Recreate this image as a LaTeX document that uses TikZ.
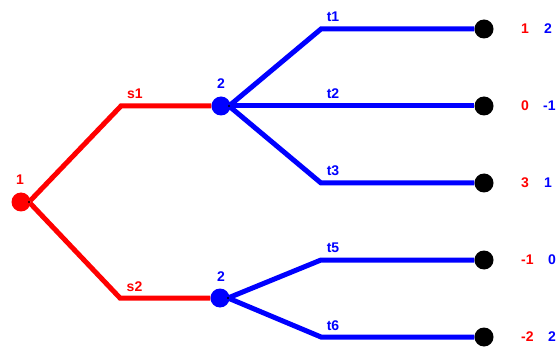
\documentclass[tikz,border=0pt]{standalone}
\usepackage{fontspec}
\setsansfont{Liberation Sans}
\usetikzlibrary{backgrounds}

\tikzset{
  move/.style={line width=5pt, line join=miter},
  choice/.style={circle, fill, inner sep=0pt, minimum size=19pt},
  leaf/.style={circle, fill=black, inner sep=0pt, minimum size=19pt},
  pin/.style={circle, fill=black, inner sep=0pt, minimum size=2.2pt},
  lbl/.style={font=\sffamily\bfseries\fontsize{14}{16}\selectfont, inner sep=0pt},
}

\begin{document}
\begin{tikzpicture}[x=1pt,y=-1pt]
  \useasboundingbox (0,0) rectangle (556,347);

  % decision nodes
  \node[choice, red]  (P1)  at (21,202)  {};
  \node[choice, blue] (P2a) at (221,106) {};
  \node[choice, blue] (P2b) at (220,298) {};
  \node[pin] (P1c)  at (29,202)  {};
  \node[pin] (P2ac) at (229,106) {};
  \node[pin] (P2bc) at (228,298) {};

  % bends of the moves
  \coordinate (S1) at (121,106);
  \coordinate (S2) at (120,298);
  \coordinate (T1) at (321,29);
  \coordinate (T2) at (321,106);
  \coordinate (T3) at (321,183);
  \coordinate (T5) at (321,260);
  \coordinate (T6) at (321,337);

  % terminal nodes and payoffs
  \foreach \n/\y/\a/\b/\bx in {1/29/1/2/544, 2/106/0/-1/543, 3/183/3/1/544,
                               4/260/-1/0/548, 5/337/-2/2/548} {
    \node[leaf] (L\n) at (484,\y) {};
    \node[lbl, red,  anchor=west] (A\n) at (521,\y) {\a};
    \node[lbl, blue, anchor=west] (B\n) at (\bx,\y) {\b};
  }

  \begin{scope}[on background layer]
    \draw[move, red]  (P1c) -- (S1) -- (P2a);
    \draw[move, red]  (P1c) -- (S2) -- (P2b);
    \draw[move, blue] (P2ac) -- (T1) -- (L1);
    \draw[move, blue] (P2ac) -- (T2) -- (L2);
    \draw[move, blue] (P2ac) -- (T3) -- (L3);
    \draw[move, blue] (P2bc) -- (T5) -- (L4);
    \draw[move, blue] (P2bc) -- (T6) -- (L5);
  \end{scope}

  % labels
  \node[lbl, red]  (l1)  at (20,180)    {1};
  \node[lbl, blue] (l2a) at (221,84)    {2};
  \node[lbl, blue] (l2b) at (221,277)   {2};
  \node[lbl, red]  (ls1) at (135,93.5)  {s1};
  \node[lbl, red]  (ls2) at (134.5,286.5) {s2};
  \node[lbl, blue] (lt1) at (333,17)    {t1};
  \node[lbl, blue] (lt2) at (333,93.5)  {t2};
  \node[lbl, blue] (lt3) at (333,171)   {t3};
  \node[lbl, blue] (lt5) at (333,247.5) {t5};
  \node[lbl, blue] (lt6) at (333,325.5) {t6};
\end{tikzpicture}
\end{document}
